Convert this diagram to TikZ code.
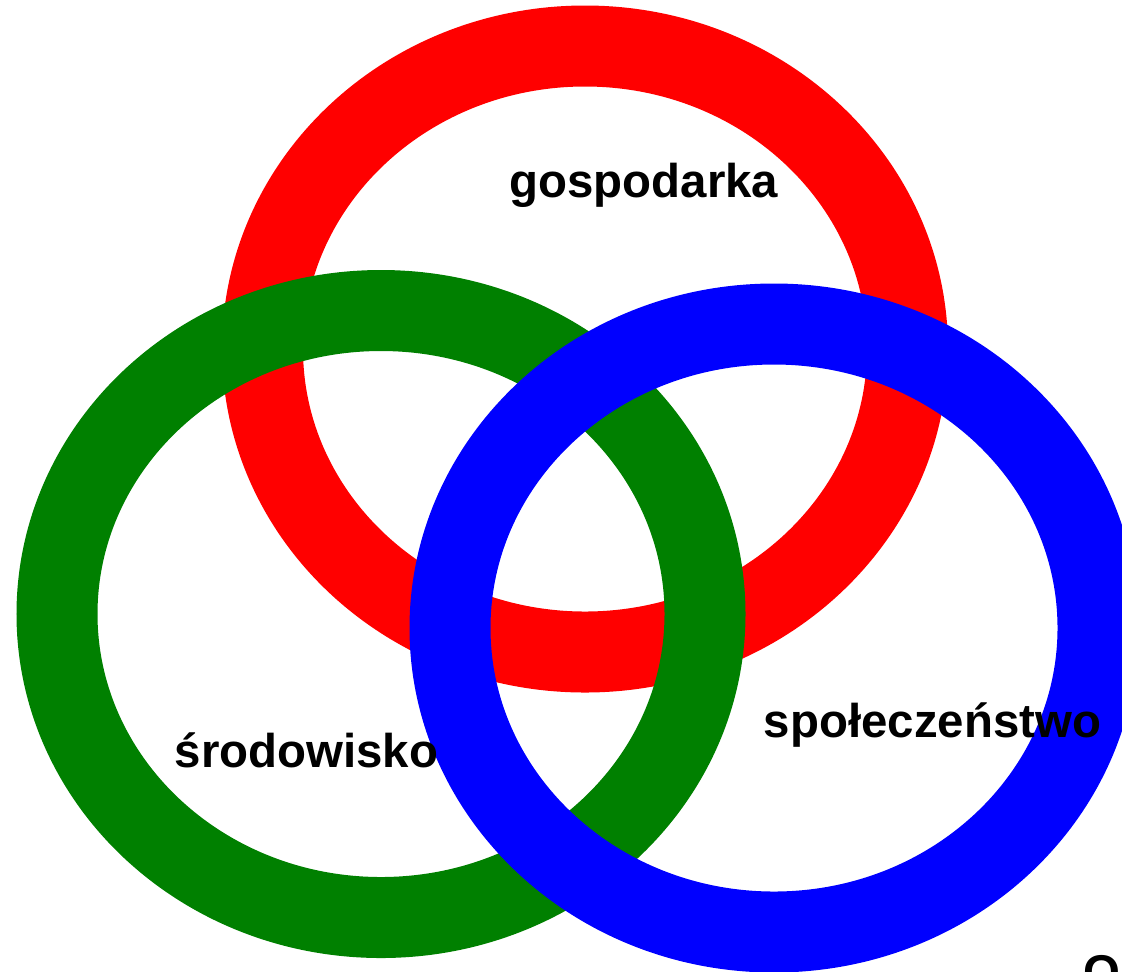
\documentclass[tikz,border=0pt]{standalone}
\usepackage{fontspec}
\setmainfont{Liberation Sans}
\definecolor{ringgreen}{RGB}{0,128,0}

\begin{document}
\begin{tikzpicture}[x=0.5pt,y=-0.5pt,
    ring/.style={line width=40.5pt},
    every node/.style={inner sep=0pt,anchor=base,font=\bfseries\fontsize{23.7}{28}\selectfont}]
  \useasboundingbox (0,0) rectangle (1122,971);
  % the three rings, red under green under blue
  \draw[ring,red] (585,349) ellipse [x radius=322.5,y radius=303];
  \draw[ring,ringgreen] (381,614) ellipse [x radius=324,y radius=303.5];
  \draw[ring,blue] (774,628) ellipse [x radius=324,y radius=304];
  % labels
  \node (gosp) at (644,197) {gospodarka};
  \node (srod) at (306.5,767) {środowisko};
  \node (spol) at (932.5,737) {społeczeństwo};
  \node[anchor=base west] (corner) at (1083,988) {O};
\end{tikzpicture}
\end{document}
